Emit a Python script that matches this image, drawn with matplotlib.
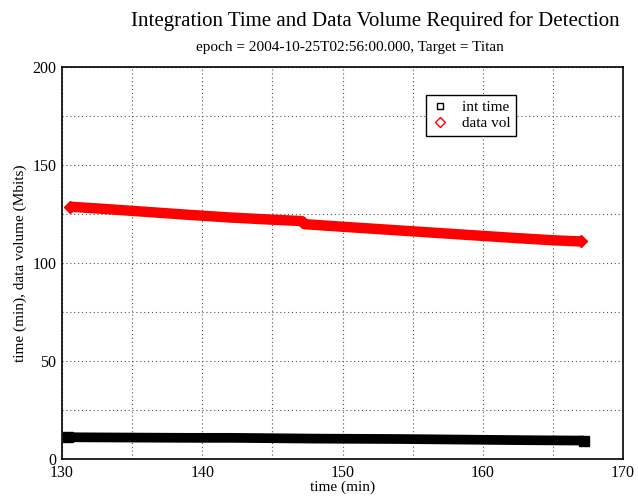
import matplotlib
matplotlib.use("Agg")
import matplotlib.pyplot as plt
from matplotlib.ticker import MultipleLocator
from matplotlib.lines import Line2D

plt.rcParams['font.family'] = ['Liberation Serif', 'DejaVu Serif']

# data
t_int = [130.4, 133, 136, 139, 142, 145, 148, 151, 154, 157, 160, 163, 165, 167.2]
int_time = [11.1, 11.0, 10.9, 10.8, 10.8, 10.6, 10.4, 10.3, 10.2, 10.0, 9.8, 9.6, 9.5, 9.4]

t_vol = [130.6, 133, 136, 139, 142, 145, 147.1, 147.3, 150, 153, 156, 159, 162, 165, 167.0]
data_vol = [128.7, 127.6, 126.1, 124.6, 123.2, 122.1, 121.4, 119.8, 118.5, 117.1, 115.7, 114.3, 112.9, 111.6, 111.0]

title = "Integration Time and Data Volume Required for Detection"
subtitle = "epoch = 2004-10-25T02:56:00.000, Target = Titan"
xlabel = "time (min)"
ylabel = "time (min), data volume (Mbits)"

fig = plt.figure(figsize=(6.38, 5.0), dpi=100)
ax = fig.add_axes([62/638, 41/500, 561/638, 392/500])

ax.plot(t_vol, data_vol, color='red', lw=7.5, solid_capstyle='butt',
        solid_joinstyle='round', marker='D', ms=6, mec='red', mfc='red',
        markevery=[0, len(t_vol) - 1], zorder=3)
ax.plot(t_int, int_time, color='black', lw=7, solid_capstyle='butt',
        marker='s', ms=7.3, mec='black', mfc='black',
        markevery=[0, len(t_int) - 1], zorder=3)

ax.set_xlim(130, 170)
ax.set_ylim(0, 200)
ax.xaxis.set_major_locator(MultipleLocator(10))
ax.yaxis.set_major_locator(MultipleLocator(50))
ax.xaxis.set_minor_locator(MultipleLocator(5))
ax.yaxis.set_minor_locator(MultipleLocator(25))
ax.grid(True, which='both', linestyle=(0, (1, 2.5)), color='#555555', lw=0.8)
ax.tick_params(which='both', direction='in', length=0, labelsize=11.5, pad=4)
for s in ax.spines.values():
    s.set_linewidth(1.2)

ax.set_xlabel(xlabel, fontsize=11, labelpad=0)
ax.set_ylabel(ylabel, fontsize=11, labelpad=4)

fig.text(0.589, 0.958, title, ha='center', va='center', fontsize=15)
fig.text(0.549, 0.906, subtitle, ha='center', va='center', fontsize=11)

h1 = Line2D([], [], ls='none', marker='s', ms=5, mfc='none', mec='black', mew=1)
h2 = Line2D([], [], ls='none', marker='D', ms=5, mfc='none', mec='red', mew=1)
leg = ax.legend([h1, h2], ['int time', 'data vol'], loc='upper left',
                bbox_to_anchor=(0.635, 0.947), fontsize=11, frameon=True,
                fancybox=False, framealpha=1, edgecolor='black',
                handlelength=1.2, handletextpad=0.8, borderpad=0.35, labelspacing=0.15)
leg.get_frame().set_linewidth(1.0)

fig.savefig("out.png", dpi=100)
